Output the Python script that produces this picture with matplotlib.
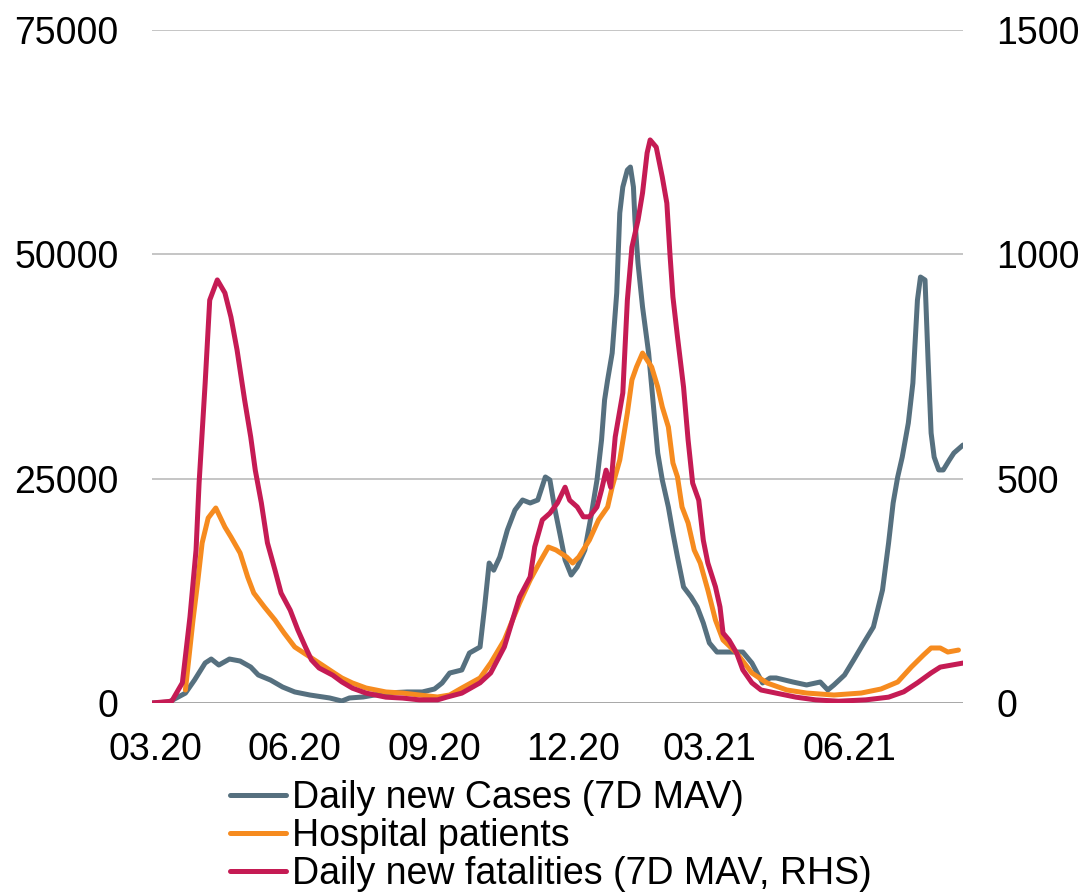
import matplotlib
matplotlib.use("Agg")
import matplotlib.pyplot as plt
import matplotlib.dates as mdates
import pandas as pd

plt.rcParams["font.family"] = ["Liberation Sans", "DejaVu Sans"]

GREY = "#56707f"
ORANGE = "#f68b1f"
RED = "#c51b54"

# daily new cases, 7-day moving average
case_dates = [
    "2020-02-28", "2020-03-10", "2020-03-21", "2020-03-27", "2020-04-03", "2020-04-07",
    "2020-04-12", "2020-04-19", "2020-04-26", "2020-05-03", "2020-05-08", "2020-05-16",
    "2020-05-24", "2020-06-01", "2020-06-11", "2020-06-24", "2020-07-02", "2020-07-07",
    "2020-07-16", "2020-07-31", "2020-08-14", "2020-08-24", "2020-09-01", "2020-09-06",
    "2020-09-11", "2020-09-19", "2020-09-24", "2020-10-01", "2020-10-04", "2020-10-07",
    "2020-10-10", "2020-10-14", "2020-10-19", "2020-10-24", "2020-10-29", "2020-11-03",
    "2020-11-08", "2020-11-13", "2020-11-16", "2020-11-19", "2020-11-23", "2020-11-26",
    "2020-11-30", "2020-12-04", "2020-12-09", "2020-12-13", "2020-12-17", "2020-12-20",
    "2020-12-22", "2020-12-24", "2020-12-27", "2020-12-30", "2021-01-01", "2021-01-03",
    "2021-01-06", "2021-01-08", "2021-01-10", "2021-01-11", "2021-01-13", "2021-01-16",
    "2021-01-20", "2021-01-23", "2021-01-26", "2021-01-29", "2021-02-02", "2021-02-05",
    "2021-02-08", "2021-02-12", "2021-02-17", "2021-02-21", "2021-02-25", "2021-03-01",
    "2021-03-06", "2021-03-12", "2021-03-23", "2021-03-29", "2021-04-05", "2021-04-10",
    "2021-04-14", "2021-04-25", "2021-05-04", "2021-05-13", "2021-05-18", "2021-05-22",
    "2021-05-29", "2021-06-04", "2021-06-11", "2021-06-17", "2021-06-23", "2021-06-27",
    "2021-06-30", "2021-07-03", "2021-07-06", "2021-07-10", "2021-07-13", "2021-07-16",
    "2021-07-18", "2021-07-21", "2021-07-23", "2021-07-25", "2021-07-27", "2021-07-30",
    "2021-08-02", "2021-08-06", "2021-08-09", "2021-08-15",
]
case_values = [
    0, 100, 1100, 2560, 4460, 4900,
    4230, 4900, 4680, 4010, 3120, 2560,
    1780, 1230, 890, 560, 220, 560,
    670, 1110, 1230, 1230, 1560, 2230,
    3340, 3680, 5570, 6240, 10700, 15600,
    14800, 16270, 19280, 21500, 22620, 22290,
    22620, 25190, 24850, 21840, 18500, 15940,
    14260, 15160, 17050, 20730, 24850, 29310,
    33770, 36000, 39000, 45690, 54600, 57500,
    59400, 59730, 57500, 53800, 49030, 44130,
    39000, 33430, 27860, 24850, 21840, 18940,
    16270, 12930, 11810, 10700, 8920, 6690,
    5680, 5680, 5680, 4460, 2230, 2790,
    2790, 2340, 2010, 2340, 1450, 2010,
    3120, 4790, 6800, 8470, 12590, 17830,
    22290, 25190, 27410, 31200, 35660, 44910,
    47470, 47140, 38220, 30090, 27410, 25970,
    25970, 27080, 27860, 28750,
]

# patients in hospital
hosp_dates = [
    "2020-03-21", "2020-03-26", "2020-03-29", "2020-04-01", "2020-04-05", "2020-04-10",
    "2020-04-16", "2020-04-20", "2020-04-26", "2020-05-01", "2020-05-05", "2020-05-12",
    "2020-05-19", "2020-05-25", "2020-06-01", "2020-06-11", "2020-06-17", "2020-06-26",
    "2020-07-02", "2020-07-09", "2020-07-18", "2020-07-31", "2020-08-11", "2020-08-22",
    "2020-09-03", "2020-09-11", "2020-09-19", "2020-10-01", "2020-10-08", "2020-10-17",
    "2020-10-27", "2020-11-03", "2020-11-09", "2020-11-15", "2020-11-20", "2020-11-27",
    "2020-12-01", "2020-12-05", "2020-12-12", "2020-12-18", "2020-12-24", "2020-12-27",
    "2021-01-01", "2021-01-06", "2021-01-09", "2021-01-12", "2021-01-16", "2021-01-19",
    "2021-01-22", "2021-01-26", "2021-01-29", "2021-02-02", "2021-02-05", "2021-02-08",
    "2021-02-11", "2021-02-15", "2021-02-19", "2021-02-23", "2021-02-28", "2021-03-05",
    "2021-03-10", "2021-03-19", "2021-03-29", "2021-04-08", "2021-04-21", "2021-05-04",
    "2021-05-22", "2021-06-09", "2021-06-22", "2021-07-03", "2021-07-12", "2021-07-20",
    "2021-07-25", "2021-07-31", "2021-08-05", "2021-08-12",
]
hosp_values = [
    1450, 9250, 13370, 17830, 20620, 21730,
    19610, 18500, 16720, 14040, 12260, 10700,
    9250, 7800, 6240, 5130, 4460, 3450,
    2790, 2230, 1670, 1230, 1110, 890,
    670, 890, 1670, 2790, 4460, 7020,
    11140, 13710, 15600, 17380, 17050, 16270,
    15600, 16270, 18160, 20390, 21840, 24070,
    27080, 32320, 36000, 37440, 39000, 38220,
    37440, 35210, 32990, 30760, 26750, 25190,
    21840, 20060, 17050, 15600, 12590, 9250,
    7020, 5570, 3340, 2230, 1450, 1110,
    890, 1110, 1560, 2340, 4010, 5350,
    6130, 6130, 5680, 5900,
]

# daily new fatalities, 7-day moving average (right-hand scale)
death_dates = [
    "2020-02-28", "2020-03-12", "2020-03-19", "2020-03-24", "2020-03-28", "2020-03-30",
    "2020-04-03", "2020-04-06", "2020-04-11", "2020-04-16", "2020-04-20", "2020-04-24",
    "2020-04-29", "2020-05-03", "2020-05-06", "2020-05-10", "2020-05-14", "2020-05-19",
    "2020-05-23", "2020-05-29", "2020-06-03", "2020-06-08", "2020-06-12", "2020-06-17",
    "2020-06-26", "2020-07-02", "2020-07-09", "2020-07-18", "2020-07-31", "2020-08-11",
    "2020-08-22", "2020-09-03", "2020-09-09", "2020-09-19", "2020-10-01", "2020-10-08",
    "2020-10-17", "2020-10-27", "2020-11-03", "2020-11-06", "2020-11-11", "2020-11-16",
    "2020-11-21", "2020-11-26", "2020-11-29", "2020-12-04", "2020-12-08", "2020-12-12",
    "2020-12-17", "2020-12-20", "2020-12-23", "2020-12-26", "2020-12-29", "2021-01-03",
    "2021-01-06", "2021-01-09", "2021-01-13", "2021-01-16", "2021-01-19", "2021-01-21",
    "2021-01-25", "2021-01-29", "2021-02-01", "2021-02-03", "2021-02-05", "2021-02-08",
    "2021-02-12", "2021-02-15", "2021-02-18", "2021-02-22", "2021-02-25", "2021-02-28",
    "2021-03-05", "2021-03-08", "2021-03-10", "2021-03-14", "2021-03-19", "2021-03-23",
    "2021-03-29", "2021-04-04", "2021-04-14", "2021-04-27", "2021-05-10", "2021-05-25",
    "2021-06-12", "2021-06-27", "2021-07-07", "2021-07-16", "2021-07-25", "2021-07-31",
    "2021-08-15",
]
death_values = [
    0, 4, 45, 192, 341, 490,
    713, 898, 943, 914, 860, 787,
    675, 593, 519, 446, 357, 296,
    245, 207, 163, 125, 96, 78,
    62, 47, 33, 22, 13, 11,
    7, 7, 13, 22, 45, 67,
    125, 236, 281, 348, 408, 423,
    446, 481, 452, 437, 415, 415,
    437, 475, 519, 481, 593, 691,
    898, 1016, 1076, 1137, 1226, 1255,
    1239, 1172, 1114, 1003, 905, 816,
    704, 586, 490, 452, 363, 312,
    259, 214, 156, 140, 111, 74,
    45, 29, 22, 13, 7, 4,
    7, 13, 25, 45, 67, 80,
    89,
]

FONT = 27
LW = 3.6

fig = plt.figure(figsize=(10.82, 8.93), dpi=100)
ax = fig.add_axes([152 / 1082, 190 / 893, 811 / 1082, 673 / 893])
ax2 = ax.twinx()

ax.plot(pd.to_datetime(case_dates), case_values, color=GREY, lw=LW,
        solid_capstyle="round", solid_joinstyle="round",
        label="Daily new Cases (7D MAV)")
ax.plot(pd.to_datetime(hosp_dates), hosp_values, color=ORANGE, lw=LW,
        solid_capstyle="round", solid_joinstyle="round",
        label="Hospital patients")
ax2.plot(pd.to_datetime(death_dates), death_values, color=RED, lw=LW,
         solid_capstyle="round", solid_joinstyle="round",
         label="Daily new fatalities (7D MAV, RHS)")

ax.set_ylim(0, 75000)
ax2.set_ylim(0, 1500)
ax.set_yticks([0, 25000, 50000, 75000])
ax2.set_yticks([0, 500, 1000, 1500])
ax.set_xlim(pd.Timestamp("2020-02-28"), pd.Timestamp("2021-08-15"))
ax.xaxis.set_major_locator(mdates.MonthLocator(bymonth=[3, 6, 9, 12]))
ax.xaxis.set_major_formatter(mdates.DateFormatter("%m.%y"))

ax.grid(axis="y", color="#c0c0c0", lw=1.3)
ax.set_axisbelow(True)
for a in (ax, ax2):
    for side in ("top", "left", "right", "bottom"):
        a.spines[side].set_visible(False)
ax.axhline(0, color="#a6a6a6", lw=2, zorder=1)

ax.tick_params(axis="y", length=0, labelsize=FONT, pad=24)
ax2.tick_params(axis="y", length=0, labelsize=FONT, pad=24)
ax.tick_params(axis="x", length=0, labelsize=FONT, pad=21)

handles = ax.get_lines()[:2] + ax2.get_lines()[:1]
fig.legend(handles, [h.get_label() for h in handles], loc="upper left",
           bbox_to_anchor=(230 / 1082, 1 - 780 / 893), frameon=False,
           fontsize=FONT, handlelength=1.5, handletextpad=0.15,
           labelspacing=0.06, borderpad=0, borderaxespad=0)

fig.savefig("out.png", dpi=100)
